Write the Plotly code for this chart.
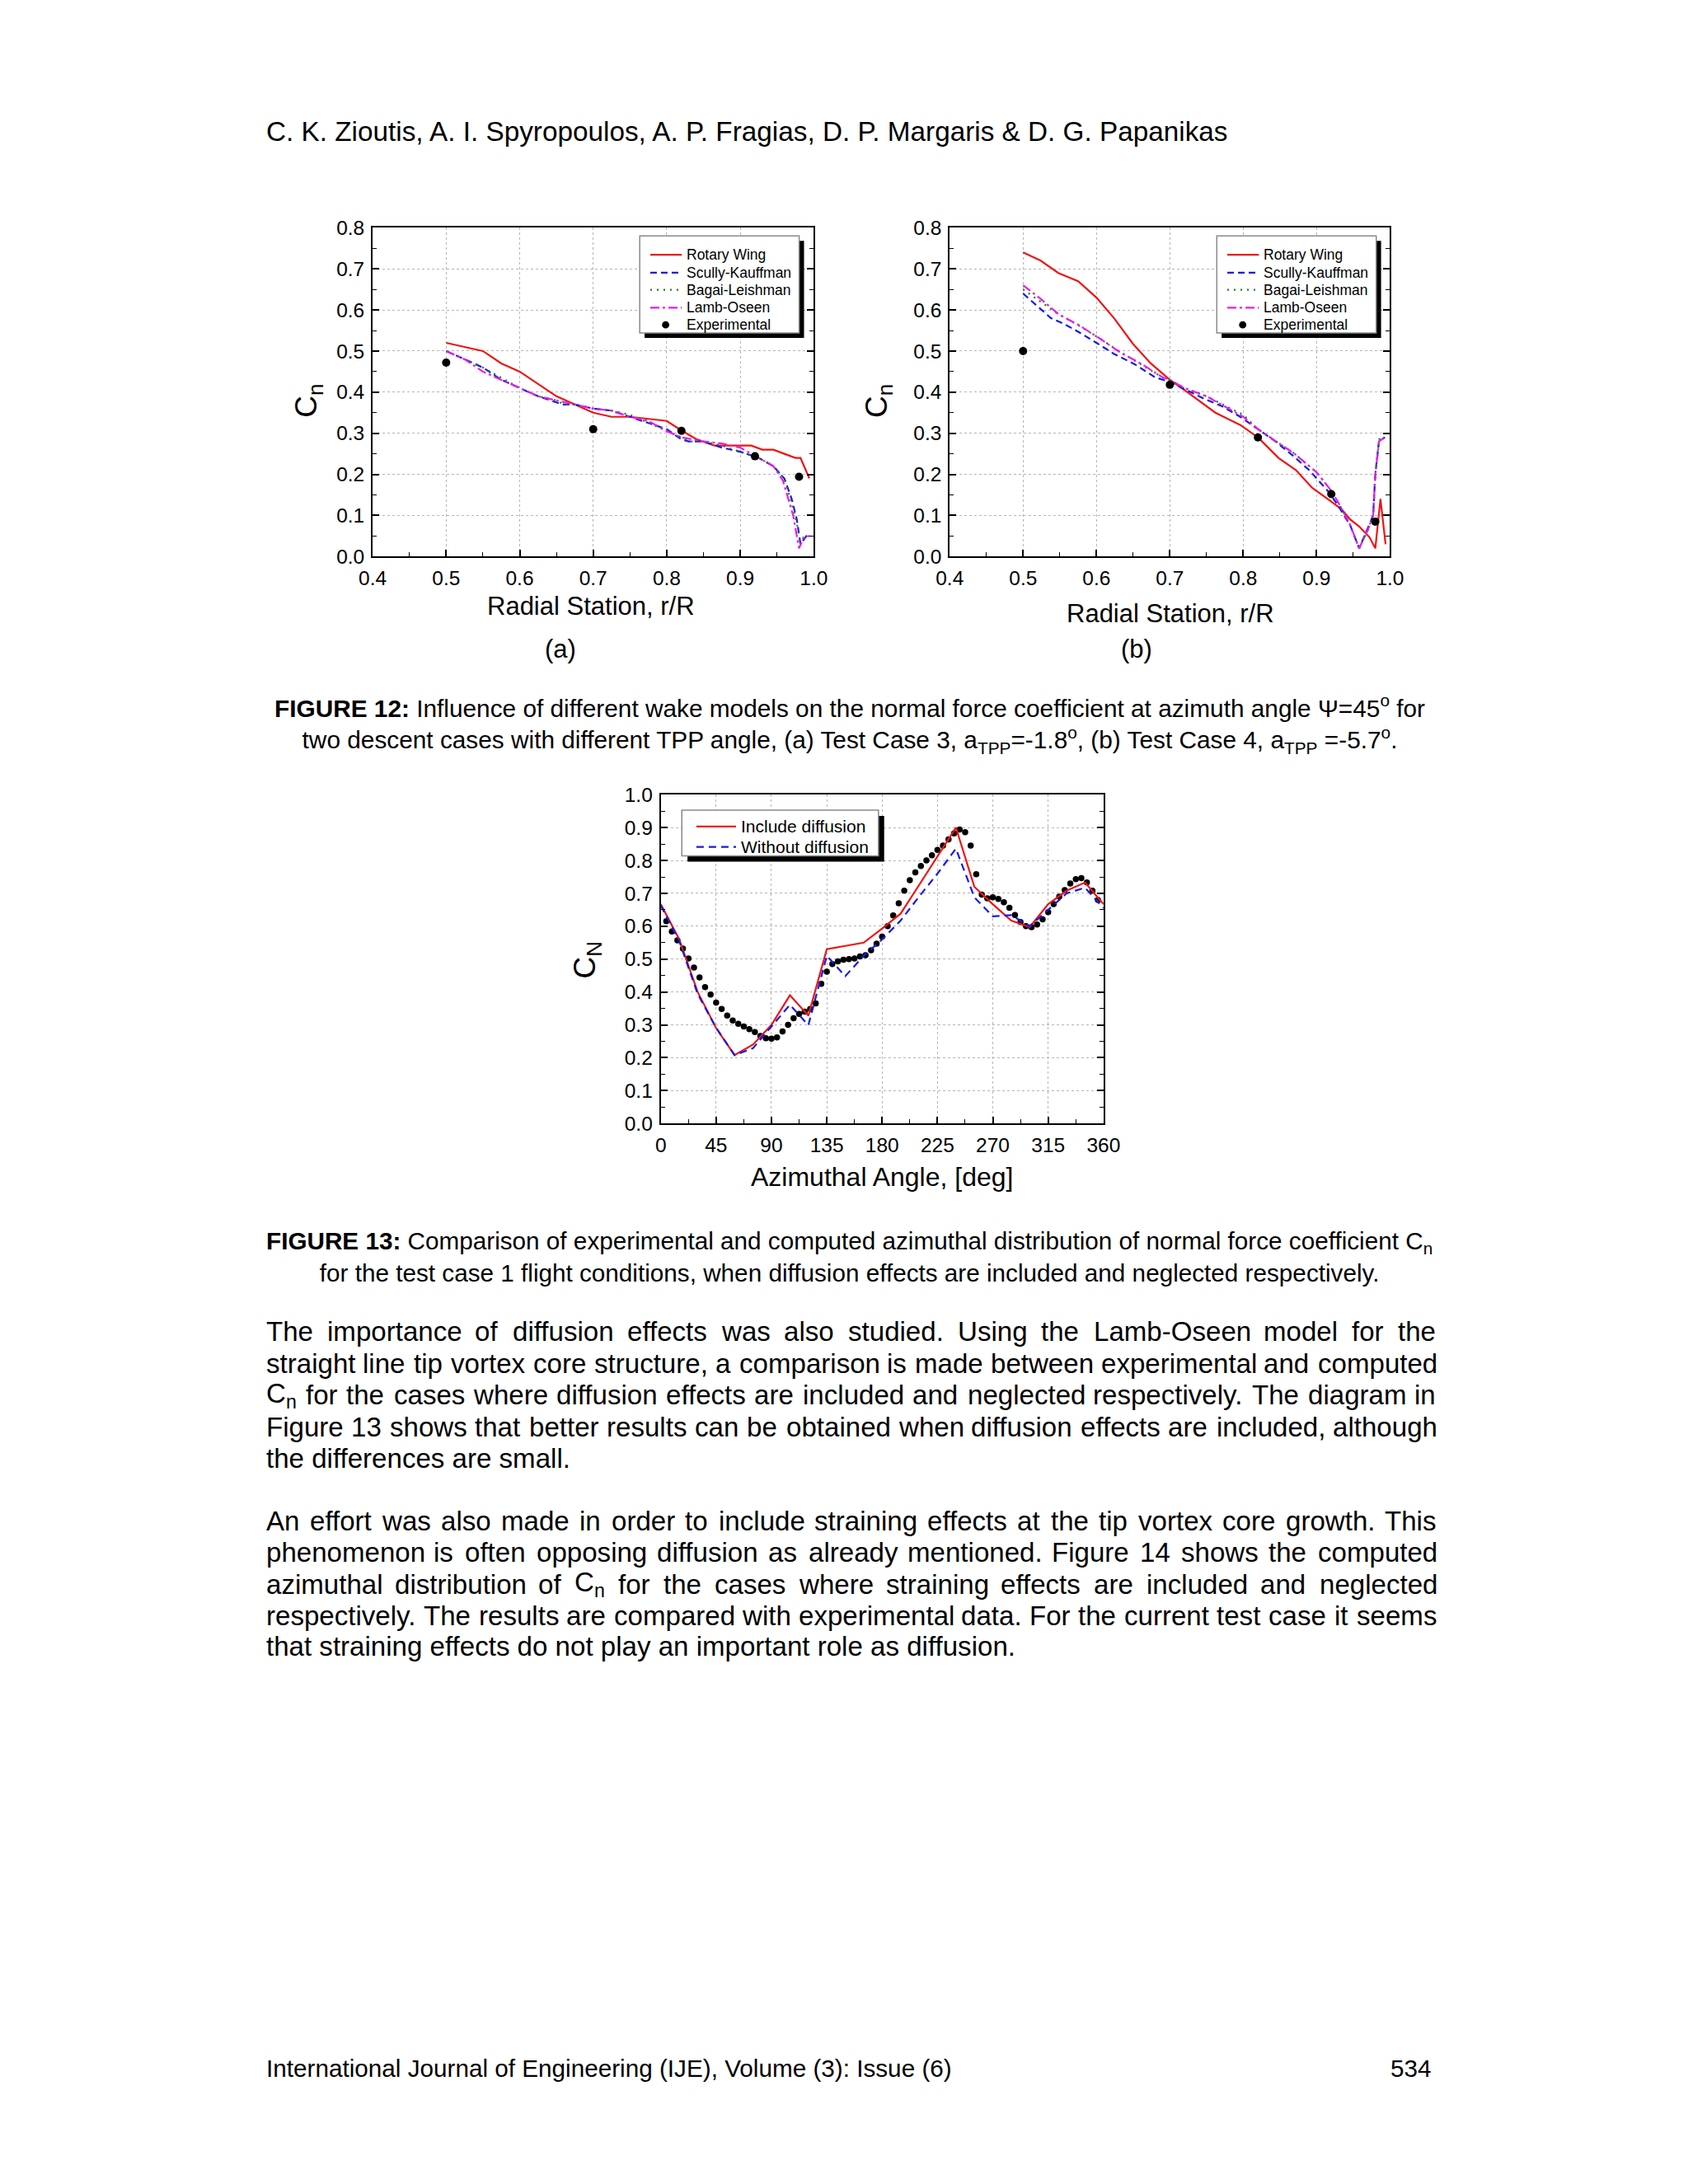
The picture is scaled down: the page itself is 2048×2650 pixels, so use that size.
import re
import plotly.graph_objects as go

W, H = 2048, 2650
FONT = "Liberation Sans"

# ---------------- Figure 12 (a) : Test Case 3 ----------------
a_rw_x = [0.5, 0.525, 0.55, 0.575, 0.6, 0.625, 0.65, 0.675, 0.7, 0.725, 0.75, 0.775, 0.8, 0.82, 0.84,
          0.865, 0.88, 0.9, 0.915, 0.93, 0.945, 0.96, 0.975, 0.982, 0.994]
a_rw_y = [0.52, 0.51, 0.50, 0.47, 0.45, 0.42, 0.39, 0.37, 0.35, 0.34, 0.34, 0.335, 0.33, 0.307, 0.286,
          0.27, 0.27, 0.27, 0.27, 0.26, 0.26, 0.25, 0.24, 0.24, 0.19]
a_sk_x = [0.5, 0.525, 0.55, 0.575, 0.6, 0.625, 0.65, 0.66, 0.675, 0.7, 0.725, 0.75, 0.775, 0.8, 0.82,
          0.83, 0.85, 0.875, 0.9, 0.925, 0.945, 0.96, 0.97, 0.977, 0.982, 0.99, 0.995]
a_sk_y = [0.50, 0.48, 0.46, 0.43, 0.41, 0.39, 0.375, 0.37, 0.37, 0.36, 0.355, 0.34, 0.325, 0.31, 0.285,
          0.28, 0.28, 0.265, 0.255, 0.24, 0.22, 0.19, 0.14, 0.09, 0.03, 0.05, 0.05]
a_bl_x = a_sk_x
a_bl_y = [0.50, 0.48, 0.46, 0.435, 0.41, 0.39, 0.38, 0.37, 0.37, 0.36, 0.355, 0.345, 0.325, 0.305, 0.29,
          0.28, 0.28, 0.27, 0.255, 0.24, 0.22, 0.19, 0.13, 0.08, 0.03, 0.05, 0.05]
a_lo_x = [0.5, 0.525, 0.55, 0.575, 0.6, 0.625, 0.65, 0.675, 0.7, 0.725, 0.75, 0.775, 0.8, 0.82, 0.85,
          0.875, 0.9, 0.925, 0.945, 0.958, 0.972, 0.98, 0.986, 0.994]
a_lo_y = [0.50, 0.48, 0.45, 0.43, 0.41, 0.39, 0.38, 0.37, 0.36, 0.355, 0.34, 0.33, 0.305, 0.29, 0.28,
          0.275, 0.265, 0.24, 0.22, 0.185, 0.10, 0.02, 0.047, 0.05]
a_ex_x = [0.5, 0.7, 0.82, 0.92, 0.98]
a_ex_y = [0.472, 0.31, 0.306, 0.244, 0.194]

# ---------------- Figure 12 (b) : Test Case 4 ----------------
b_rw_x = [0.5, 0.524, 0.548, 0.575, 0.6, 0.624, 0.65, 0.674, 0.7, 0.724, 0.762, 0.796, 0.82, 0.848,
          0.872, 0.894, 0.915, 0.934, 0.946, 0.958, 0.972, 0.98, 0.987, 0.994]
b_rw_y = [0.74, 0.72, 0.69, 0.67, 0.63, 0.58, 0.517, 0.47, 0.43, 0.40, 0.35, 0.32, 0.29, 0.24,
          0.21, 0.167, 0.14, 0.115, 0.09, 0.073, 0.047, 0.02, 0.14, 0.03]
b_sk_x = [0.5, 0.519, 0.538, 0.557, 0.576, 0.6, 0.624, 0.652, 0.68, 0.7, 0.72, 0.748, 0.772, 0.796,
          0.82, 0.844, 0.868, 0.89, 0.915, 0.929, 0.946, 0.958, 0.97, 0.977, 0.98, 0.985, 0.993]
b_sk_y = [0.64, 0.61, 0.58, 0.565, 0.546, 0.52, 0.493, 0.468, 0.436, 0.425, 0.408, 0.383, 0.365, 0.34,
          0.31, 0.28, 0.245, 0.21, 0.16, 0.125, 0.075, 0.02, 0.07, 0.10, 0.20, 0.28, 0.29]
b_lo_x = [0.5, 0.524, 0.548, 0.576, 0.605, 0.633, 0.662, 0.69, 0.7, 0.72, 0.75, 0.8, 0.82, 0.85,
          0.87, 0.9, 0.92, 0.93, 0.945, 0.958, 0.97, 0.977, 0.98, 0.985, 0.993]
b_lo_y = [0.66, 0.627, 0.59, 0.563, 0.53, 0.496, 0.468, 0.436, 0.43, 0.41, 0.39, 0.34, 0.31, 0.275,
          0.25, 0.205, 0.16, 0.13, 0.08, 0.02, 0.065, 0.10, 0.20, 0.28, 0.29]
b_bl_x = b_lo_x
b_bl_y = [0.65, 0.62, 0.59, 0.562, 0.53, 0.497, 0.466, 0.436, 0.43, 0.41, 0.39, 0.345, 0.31, 0.275,
          0.25, 0.205, 0.16, 0.13, 0.08, 0.02, 0.065, 0.10, 0.20, 0.285, 0.29]
b_ex_x = [0.5, 0.7, 0.82, 0.92, 0.98]
b_ex_y = [0.5, 0.418, 0.29, 0.152, 0.085]

# ---------------- Figure 13 ----------------
psi_calc = [0, 15, 30, 45, 60, 75, 90, 105, 120, 135, 150, 165, 180, 195, 210, 225, 240, 255, 270,
            285, 300, 315, 330, 345, 360]
cn_incl = [0.667, 0.56, 0.40, 0.29, 0.208, 0.24, 0.30, 0.39, 0.328, 0.53, 0.54, 0.55, 0.593, 0.638,
           0.725, 0.812, 0.90, 0.72, 0.667, 0.617, 0.597, 0.667, 0.708, 0.733, 0.667]
cn_wo = [0.663, 0.555, 0.394, 0.291, 0.208, 0.229, 0.295, 0.361, 0.299, 0.51, 0.448, 0.51, 0.56, 0.617,
         0.69, 0.76, 0.836, 0.688, 0.63, 0.634, 0.60, 0.65, 0.70, 0.717, 0.655]
psi_exp = [4.5, 9, 13.5, 18, 22.5, 27, 31.5, 36, 40.5, 45, 49.5, 54, 58.5, 63, 67.5, 72, 76.5, 81, 85.5,
           90, 94.5, 99, 103.5, 108, 112.5, 117, 121.5, 126, 130.5, 135, 139.5, 144, 148.5, 153, 157.5,
           162, 166.5, 171, 175.5, 180, 184.5, 189, 193.5, 198, 202.5, 207, 211.5, 216, 220.5, 225,
           229.5, 234, 238.5, 243, 247.5, 252, 256.5, 261, 265.5, 270, 274.5, 279, 283.5, 288, 292.5,
           297, 301.5, 306, 310.5, 315, 319.5, 324, 328.5, 333, 337.5, 342, 346.5, 351, 355.5]
cn_exp = [0.615, 0.584, 0.557, 0.532, 0.502, 0.474, 0.444, 0.415, 0.392, 0.368, 0.348, 0.328, 0.313,
          0.303, 0.295, 0.287, 0.278, 0.266, 0.259, 0.258, 0.262, 0.28, 0.30, 0.32, 0.333, 0.34, 0.348,
          0.365, 0.425, 0.462, 0.485, 0.493, 0.498, 0.50, 0.502, 0.508, 0.512, 0.527, 0.547, 0.568,
          0.60, 0.633, 0.67, 0.708, 0.74, 0.764, 0.783, 0.80, 0.816, 0.832, 0.845, 0.864, 0.882, 0.894,
          0.886, 0.845, 0.758, 0.696, 0.685, 0.688, 0.683, 0.673, 0.656, 0.634, 0.613, 0.60, 0.597,
          0.605, 0.621, 0.643, 0.667, 0.69, 0.71, 0.73, 0.743, 0.746, 0.733, 0.708, 0.68]

# ---------------- page text ----------------
header = "C. K. Zioutis, A. I. Spyropoulos, A. P. Fragias, D. P. Margaris &amp; D. G. Papanikas"
cap12 = ["<b>FIGURE 12:</b> Influence of different wake models on the normal force coefficient at "
         "azimuth angle \u03a8=45<sup>o</sup> for",
         "two descent cases with different TPP angle, (a) Test Case 3, a<sub>TPP</sub>=-1.8<sup>o</sup>, "
         "(b) Test Case 4, a<sub>TPP</sub> =-5.7<sup>o</sup>."]
cap13 = ["<b>FIGURE 13:</b> Comparison of experimental and computed azimuthal distribution of normal "
         "force coefficient C<sub>n</sub>",
         "for the test case 1 flight conditions, when diffusion effects are included and neglected "
         "respectively."]
para1 = ["The importance of diffusion effects was also studied. Using the Lamb-Oseen model for the",
         "straight line tip vortex core structure, a comparison is made between experimental and computed",
         "C<sub>n</sub> for the cases where diffusion effects are included and neglected respectively. The diagram in",
         "Figure 13 shows that better results can be obtained when diffusion effects are included, although",
         "the differences are small."]
para2 = ["An effort was also made in order to include straining effects at the tip vortex core growth. This",
         "phenomenon is often opposing diffusion as already mentioned. Figure 14 shows the computed",
         "azimuthal distribution of C<sub>n</sub> for the cases where straining effects are included and neglected",
         "respectively. The results are compared with experimental data. For the current test case it seems",
         "that straining effects do not play an important role as diffusion."]
footer = "International Journal of Engineering (IJE), Volume (3): Issue (6)"
page_no = "534"

# ---------------- styles ----------------
RED, BLUE, GREEN, MAG = "#ee1515", "#1a1ae0", "#1a7f1a", "#e61ee6"
series_a = [("Rotary Wing", RED, "solid"), ("Scully-Kauffman", BLUE, "8px,5px"),
            ("Bagai-Leishman", GREEN, "2px,6px"), ("Lamb-Oseen", MAG, "11px,4px,3px,4px")]
LW = 2.2
LEFT_MARGIN, RIGHT_MARGIN, PAGE_CX = 301, 1746, 1024

# Arial / Liberation Sans advance widths (1/1000 em), used to justify body lines
AW = {' ': 278, ',': 278, '.': 278, '-': 333, '(': 333, ')': 333, ':': 278, '&': 667}
AW.update({c: 556 for c in '0123456789'})
AW.update(dict(zip('ABCDEFGHIJKLMNOPQRSTUVWXYZ',
                   [667, 667, 722, 722, 667, 611, 778, 722, 278, 500, 667, 556, 833, 722, 778, 667, 778,
                    722, 667, 611, 722, 667, 944, 667, 667, 611])))
AW.update(dict(zip('abcdefghijklmnopqrstuvwxyz',
                   [556, 556, 500, 556, 556, 278, 556, 556, 222, 222, 500, 222, 833, 556, 556, 556, 556,
                    333, 500, 278, 556, 500, 722, 500, 500, 500])))


def px(x):
    return x / W


def py(y):
    return 1 - y / H


fig = go.Figure()


def add_lines(xs_ys, xa, ya):
    for (name, col, dash), (xs, ys) in zip(series_a, xs_ys):
        fig.add_trace(go.Scatter(x=xs, y=ys, mode="lines", name=name, xaxis=xa, yaxis=ya,
                                 line=dict(color=col, width=LW, dash=dash), showlegend=False))


add_lines([(a_rw_x, a_rw_y), (a_sk_x, a_sk_y), (a_bl_x, a_bl_y), (a_lo_x, a_lo_y)], "x", "y")
fig.add_trace(go.Scatter(x=a_ex_x, y=a_ex_y, mode="markers", name="Experimental", xaxis="x", yaxis="y",
                         marker=dict(color="black", size=10), showlegend=False))
add_lines([(b_rw_x, b_rw_y), (b_sk_x, b_sk_y), (b_bl_x, b_bl_y), (b_lo_x, b_lo_y)], "x2", "y2")
fig.add_trace(go.Scatter(x=b_ex_x, y=b_ex_y, mode="markers", name="Experimental", xaxis="x2", yaxis="y2",
                         marker=dict(color="black", size=10), showlegend=False))

fig.add_trace(go.Scatter(x=psi_exp, y=cn_exp, mode="markers", name="Experimental", xaxis="x3", yaxis="y3",
                         marker=dict(color="black", size=7.5), showlegend=False))
fig.add_trace(go.Scatter(x=psi_calc, y=cn_incl, mode="lines", name="Include diffusion", xaxis="x3",
                         yaxis="y3", line=dict(color=RED, width=LW), showlegend=False))
fig.add_trace(go.Scatter(x=psi_calc, y=cn_wo, mode="lines", name="Without diffusion", xaxis="x3",
                         yaxis="y3", line=dict(color=BLUE, width=LW, dash="9px,6px"), showlegend=False))


def ax(**kw):
    d = dict(showline=True, linecolor="black", linewidth=2, mirror=True,
             ticks="inside", ticklen=8, tickwidth=1.6, tickcolor="black",
             showgrid=True, gridcolor="#b5b5b5", griddash="dot", gridwidth=1.2,
             zeroline=False, ticklabelstandoff=3,
             tickfont=dict(family=FONT, size=24.5, color="black"))
    d.update(kw)
    return d


minor01 = dict(ticks="inside", ticklen=5, tickwidth=1.4, tickcolor="black", dtick=0.05, showgrid=False)
minor45 = dict(ticks="inside", ticklen=5, tickwidth=1.4, tickcolor="black", dtick=22.5, showgrid=False)

fig.update_layout(
    width=W, height=H, autosize=False, margin=dict(l=0, r=0, t=0, b=0),
    paper_bgcolor="white", plot_bgcolor="white", showlegend=False,
    xaxis=ax(domain=[px(435), px(980)], anchor="y", range=[0.4, 1.0], tick0=0.4, dtick=0.1,
             tickformat=".1f", minor=minor01),
    yaxis=ax(domain=[py(661), py(258)], anchor="x", range=[0, 0.8], tick0=0, dtick=0.1,
             tickformat=".1f", minor=minor01, mirror="ticks"),
    xaxis2=ax(domain=[px(1148), px(1692)], anchor="y2", range=[0.4, 1.0], tick0=0.4, dtick=0.1,
              tickformat=".1f", minor=minor01),
    yaxis2=ax(domain=[py(661), py(258)], anchor="x2", range=[0, 0.8], tick0=0, dtick=0.1,
              tickformat=".1f", minor=minor01, mirror="ticks"),
    xaxis3=ax(domain=[px(791), px(1338)], anchor="y3", range=[0, 360], tick0=0, dtick=45,
              minor=minor45),
    yaxis3=ax(domain=[py(1356), py(953)], anchor="x3", range=[0, 1.0], tick0=0, dtick=0.1,
              tickformat=".1f", minor=minor01, mirror="ticks"),
)


def text(x, y, s, size, xanchor="left", yanchor="middle", angle=0, align="left"):
    fig.add_annotation(x=px(x), y=py(y), xref="paper", yref="paper", text=s, showarrow=False,
                       xanchor=xanchor, yanchor=yanchor, textangle=angle, align=align,
                       font=dict(family=FONT, size=size, color="black"))


def rect(x0, y0, x1, y1, fill, line_col=None, lw=0):
    fig.add_shape(type="rect", xref="paper", yref="paper", x0=px(x0), x1=px(x1), y0=py(y1), y1=py(y0),
                  fillcolor=fill, line=dict(color=line_col or fill, width=lw), layer="above")


def seg(x0, x1, y, col, dash):
    fig.add_shape(type="line", xref="paper", yref="paper", x0=px(x0), x1=px(x1), y0=py(y), y1=py(y),
                  line=dict(color=col, width=LW, dash=dash), layer="above")


def dot(x, y, r):
    fig.add_shape(type="circle", xref="paper", yref="paper", x0=px(x - r), x1=px(x + r),
                  y0=py(y + r), y1=py(y - r), fillcolor="black", line=dict(color="black", width=0),
                  layer="above")


def word_width(w, size):
    total = 0.0
    for part in re.split(r"(<sub>.*?</sub>)", w):
        if part.startswith("<sub>"):
            total += 0.7 * sum(AW.get(c, 556) for c in part[5:-6])
        else:
            total += sum(AW.get(c, 556) for c in part)
    return total * size / 1000.0


def justified(line, y, size, left=LEFT_MARGIN, right=RIGHT_MARGIN):
    words = line.split(" ")
    widths = [word_width(w, size) for w in words]
    gap = (right - left - sum(widths)) / (len(words) - 1)
    x = left
    for w, wd in zip(words, widths):
        text(x, y, w, size)
        x += wd + gap


# legends of figure 12
for left in (765, 1478):
    rect(left + 6, 274, left + 203, 393, "black")
    rect(left, 268, left + 197, 387, "white", "#8a8a8a", 1.5)
    ys = [291, 313, 334, 356, 377]
    for (name, col, dash), yy in zip(series_a, ys):
        seg(left + 13, left + 52, yy, col, dash)
        text(left + 56, yy, name, 17.5)
    dot(left + 32, ys[4], 4.5)
    text(left + 56, ys[4], "Experimental", 17.5)

# legend of figure 13
rect(824, 979, 1067, 1035, "black")
rect(817, 972, 1060, 1028, "white", "#8a8a8a", 1.5)
seg(835, 884, 992, RED, "solid")
text(888, 992, "Include diffusion", 21)
seg(835, 884, 1017, BLUE, "9px,6px")
text(888, 1017, "Without diffusion", 21)

# axis titles / panel labels
text(705, 722, "Radial Station, r/R", 31, "center")
text(1421, 731, "Radial Station, r/R", 31, "center")
text(667, 774, "(a)", 31, "center")
text(1379, 774, "(b)", 31, "center")
text(356, 470, "C<sub>n</sub>", 37, "center", angle=-90)
text(1060, 470, "C<sub>n</sub>", 37, "center", angle=-90)
text(1064, 1421, "Azimuthal Angle, [deg]", 32, "center")
text(700, 1156, "C<sub>N</sub>", 37, "center", angle=-90)

# page text
text(LEFT_MARGIN, 140, header, 33.3)
text(PAGE_CX, 866, "<br>".join(cap12), 29.8, "center", align="center")
text(PAGE_CX, 1519, "<br>".join(cap13), 29.7, "center", align="center")

BODY = 33.1
for i, (line, yy) in enumerate(zip(para1, [1611, 1650, 1689, 1728, 1767])):
    if i < len(para1) - 1:
        justified(line, yy, BODY)
    else:
        text(LEFT_MARGIN, yy, line, BODY)
for i, (line, yy) in enumerate(zip(para2, [1843, 1882, 1921, 1959, 1997])):
    if i < len(para2) - 1:
        justified(line, yy, BODY)
    else:
        text(LEFT_MARGIN, yy, line, BODY)

text(LEFT_MARGIN, 2514, footer, 29.7)
text(RIGHT_MARGIN, 2514, page_no, 29.7, "right")

fig.write_html("out.html")
